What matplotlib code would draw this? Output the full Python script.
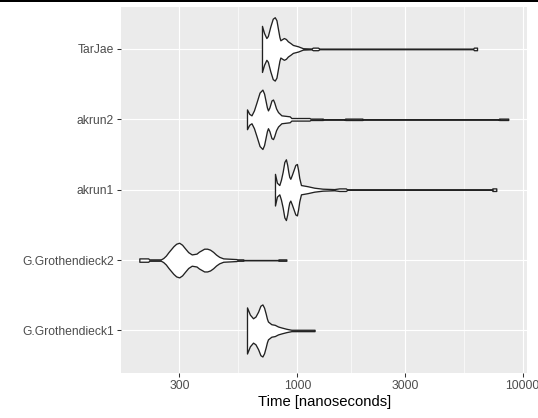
import numpy as np
import matplotlib
matplotlib.use("Agg")
import matplotlib.pyplot as plt
from matplotlib.patches import Rectangle

plt.rcParams['font.family'] = ['Liberation Sans', 'DejaVu Sans']

# expressions, bottom to top
groups = ["G.Grothendieck1", "G.Grothendieck2", "akrun1", "akrun2", "TarJae"]

# violin outlines: time (ns) and density (relative)
gg1_t = [598, 616, 636, 652, 670, 686, 700, 712, 724, 733, 741, 767, 794,
         821, 850, 894, 941, 1193]
gg1_d = [23.3, 16, 12.3, 14, 19, 25, 26.3, 23, 17, 12, 9, 6.3, 5.7,
         4, 3, 1.7, 0.7, 0.7]

gg2_t = [199, 218, 220, 248, 254, 261, 268, 282, 290, 299, 308, 317, 328,
         340, 357, 366, 376, 386, 398, 410, 423, 436, 450, 469, 537, 540,
         575, 580, 821, 825, 894]
gg2_d = [1.7, 1.7, 0.7, 0.7, 2, 4.5, 8, 14, 16.5, 17.5, 15.5, 12, 8,
         5.7, 6.5, 8.5, 10, 11.5, 11.5, 10.5, 8.3, 5.5, 3.3, 1.7, 1, 0.7,
         0.7, 0.05, 0.05, 0.7, 0.7]

ak1_t = [796, 812, 832, 846, 861, 876, 890, 902, 912, 921, 931, 946, 963,
         980, 996, 1008, 1020, 1038, 1111, 1189, 1295, 1459, 1535, 1641,
         1670, 7336, 7340, 7640]
ak1_d = [16, 7, 4.7, 10, 18, 28, 30.7, 25, 18, 13, 11, 15, 20,
         25, 26, 20, 12, 4.7, 3.5, 2, 1, 0.6, 1.3, 1.3,
         0.05, 0.05, 1.3, 1.3]

ak2_t = [598, 612, 626, 642, 659, 680, 700, 712, 724, 733, 741, 752, 768,
         780, 790, 805, 821, 850, 925, 941, 1133, 1142, 1298, 1300, 1624,
         1630, 1945, 1950, 7855, 7860, 8633]
ak2_d = [10, 5.5, 4, 9, 17, 27, 30, 26, 18, 12, 9, 12, 19,
         20, 17, 11, 7.3, 4, 3, 1.3, 1.3, 0.7, 0.7, 0.05, 0.05,
         0.7, 0.7, 0.05, 0.05, 0.7, 0.7]

tj_t = [697, 712, 729, 740, 759, 778, 794, 808, 821, 833, 841, 855, 872,
        890, 908, 931, 956, 1006, 1059, 1153, 1173, 1234, 1255, 6030,
        6080, 6276]
tj_d = [23.3, 16, 11, 13, 22.7, 30.5, 32, 29, 20, 12, 8.7, 9.8, 11,
        10, 7.7, 6, 4, 2.7, 0.7, 0.4, 1.3, 1.3, 0.3, 0.3,
        1.3, 1.3]

times = [gg1_t, gg2_t, ak1_t, ak2_t, tj_t]
dens = [gg1_d, gg2_d, ak1_d, ak2_d, tj_d]

xticks = [300, 1000, 3000, 10000]
xminor = [548, 1732, 5477]

fig = plt.figure(figsize=(5.38, 4.18), dpi=100)
ax = fig.add_axes([0.2249, 0.1084, 0.9801 - 0.2249, 0.984 - 0.1084])
ax.set_facecolor('#EBEBEB')

# widest violin gets a half width of 0.45
dmax = max(max(d) for d in dens)
for i, (t, d) in enumerate(zip(times, dens)):
    y = i + 1
    w = np.array(d) / dmax * 0.45
    ax.fill_between(t, y - w, y + w, facecolor='white', edgecolor='#222222',
                    linewidth=0.95, zorder=3)

ax.set_xscale('log')
ax.set_xlim(165, 10490)
ax.set_ylim(0.4, 5.6)
ax.set_xticks(xticks)
ax.set_xticklabels([str(v) for v in xticks])
ax.set_xticks(xminor, minor=True)
ax.set_xticklabels([], minor=True)
ax.set_yticks(range(1, len(groups) + 1))
ax.set_yticklabels(groups)

ax.grid(which='major', color='white', linewidth=0.8)
ax.grid(which='minor', axis='x', color='white', linewidth=0.45)
ax.set_axisbelow(True)
for s in ax.spines.values():
    s.set_visible(False)
ax.tick_params(which='major', length=2.9, width=0.75, color='#333333',
               labelsize=8.7, labelcolor='#4D4D4D', pad=2.1)
ax.tick_params(which='minor', length=0)

ax.set_xlabel('Time [nanoseconds]', fontsize=10.7, color='black', labelpad=2.6)

# dark strip along the top edge of the picture
fig.patches.append(Rectangle((0, 1 - 2 / 418), 1, 2 / 418, transform=fig.transFigure,
                             facecolor='black', edgecolor='none'))

fig.savefig('out.png', dpi=100)
